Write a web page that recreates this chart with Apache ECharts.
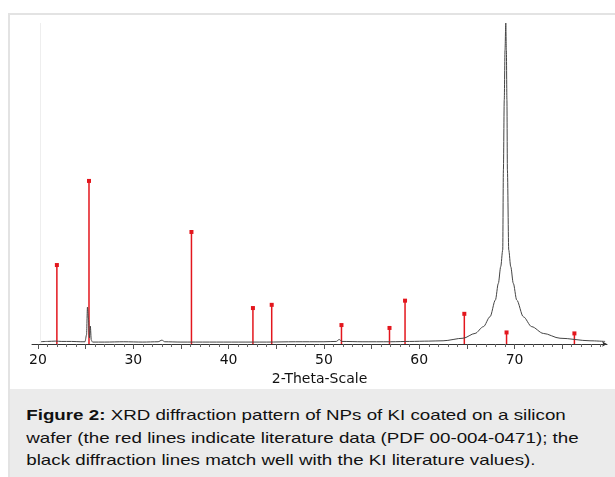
<!DOCTYPE html>
<html>
<head>
<meta charset="utf-8">
<title>XRD pattern of KI</title>
<script src="https://cdn.jsdelivr.net/npm/echarts@6/dist/echarts.min.js"></script>
<style>
  html, body { margin: 0; padding: 0; background: #fff; }
  #page { position: relative; width: 615px; height: 477px; overflow: hidden; }
  #chart { position: absolute; left: 0; top: 0; width: 615px; height: 389px; }
  #frame {
    position: absolute; left: 8px; top: 13px; width: 640px; height: 500px;
    border-left: 2px solid #e3e3e3; border-top: 2px solid #e3e3e3;
    box-sizing: border-box; pointer-events: none;
  }
  #caption {
    position: absolute; left: 10px; top: 389px; width: 605px; height: 88px;
    background: #ebebeb; overflow: hidden;
  }
  #caption p {
    margin: 0; padding: 15px 0 0 13px;
    font: 15px/22.5px "Liberation Sans", Arial, sans-serif; color: #111;
    white-space: nowrap; transform: scaleX(1.25); transform-origin: 0 0;
  }
</style>
</head>
<body>
<div id="page">
  <div id="chart"></div>
  <div id="caption">
    <p><b>Figure 2:</b> XRD diffraction pattern of NPs of KI coated on a silicon<br>wafer (the red lines indicate literature data (PDF 00-004-0471); the<br>black diffraction lines match well with the KI literature values).</p>
  </div>
  <div id="frame"></div>
</div>
<script>
const scanTheta = [20.2, 21, 21.8, 22.5, 23.5, 24.5, 24.93, 25.09, 25.19, 25.3, 25.4, 25.49, 25.59, 25.72,
  27, 29, 31, 32.6, 33.0, 33.3, 35, 38, 41, 44, 47, 50, 51.3, 51.6, 51.9, 54, 57, 59, 61, 62.5,
  64.6, 65.86, 66.73, 67.43, 67.99, 68.3, 68.55, 68.76, 68.83, 68.92, 69.0, 69.08, 69.14, 69.2, 69.25,
  69.39, 69.6, 69.87, 70.23, 70.92, 71.8, 73.02, 74.77, 77.92, 79.5]
const scanCounts = [0.7, 0.8, 0.9, 0.8, 0.8, 0.7, 0.7, 2.8, 11.5, 7.5, 1.9, 5.6, 1.2, 0.6,
  0.6, 0.7, 0.6, 0.7, 1.2, 0.7, 0.6, 0.6, 0.6, 0.6, 0.7, 0.7, 0.8, 1.4, 0.8, 0.7, 0.7, 0.8, 0.9, 1.0,
  1.8, 3.3, 5.4, 8.5, 13.7, 18.9, 24.1, 29.3, 54.2, 76, 91.6, 100, 91.6, 76, 54.2,
  29.3, 24.1, 18.9, 13.7, 8.5, 5.4, 3.3, 1.8, 1.0, 0.8]

// literature lines (PDF 00-004-0471)
const refTheta = [21.98, 25.35, 36.1, 42.55, 44.52, 51.84, 56.88, 58.51, 64.73, 69.16, 76.28]
const refCounts = [24.6, 50.8, 34.9, 11.2, 12.2, 5.9, 5.0, 13.5, 9.4, 3.6, 3.3]

const thetaLabels = [20, 30, 40, 50, 60, 70]
const thetaMin = 19.37
const thetaMax = 79.7

const minorTicks = []
const fiveTicks = []
for (let t = 20; t <= 79; t++) {
  minorTicks.push(t)
  if (t % 5 === 0) fiveTicks.push(t)
}

const scan = scanTheta.map((t, i) => [t, scanCounts[i]])
const refs = refTheta.map((t, i) => [t, refCounts[i]])

const chart = echarts.init(document.getElementById('chart'))

chart.setOption({
  animation: false,
  grid: { left: 32, right: 8, top: 23, bottom: 45, outerBoundsMode: 'none', containLabel: false },
  xAxis: [
    {
      type: 'value',
      min: thetaMin,
      max: thetaMax,
      name: '2-Theta-Scale',
      nameLocation: 'middle',
      nameGap: 22,
      nameTextStyle: { fontFamily: 'DejaVu Sans', fontSize: 14, color: '#111' },
      axisLine: {
        lineStyle: { color: '#333', width: 1 },
        symbol: ['none', 'arrow'],
        symbolSize: [4, 5]
      },
      axisTick: { customValues: minorTicks, length: 3, lineStyle: { color: '#666' } },
      axisLabel: {
        customValues: thetaLabels,
        fontFamily: 'DejaVu Sans',
        fontSize: 14,
        color: '#111',
        margin: 9
      },
      splitLine: { show: false }
    },
    {
      type: 'value',
      min: thetaMin,
      max: thetaMax,
      position: 'bottom',
      axisLine: { show: false },
      axisTick: { customValues: fiveTicks, length: 5, lineStyle: { color: '#555' } },
      axisLabel: { show: false },
      splitLine: { show: false }
    }
  ],
  yAxis: { type: 'value', min: 0, max: 100, show: false },
  series: [
    {
      type: 'line',
      data: scan,
      showSymbol: false,
      smooth: 0.3,
      smoothMonotone: 'x',
      lineStyle: { color: '#444', width: 1 },
      markLine: {
        silent: true,
        symbol: 'none',
        label: { show: false },
        lineStyle: { color: '#eeeeee', width: 1, type: 'solid' },
        data: [{ xAxis: 20.25 }]
      }
    },
    {
      type: 'custom',
      data: refs,
      renderItem: function (params, api) {
        const base = api.coord([api.value(0), 0])
        const top = api.coord([api.value(0), api.value(1)])
        return {
          type: 'group',
          children: [
            {
              type: 'line',
              shape: { x1: base[0], y1: base[1], x2: top[0], y2: top[1] },
              style: { stroke: '#e3161d', lineWidth: 1.5 }
            },
            {
              type: 'rect',
              shape: { x: top[0] - 2, y: top[1] - 2, width: 4, height: 4 },
              style: { fill: '#e3161d' }
            }
          ]
        }
      }
    }
  ]
})
</script>
</body>
</html>
